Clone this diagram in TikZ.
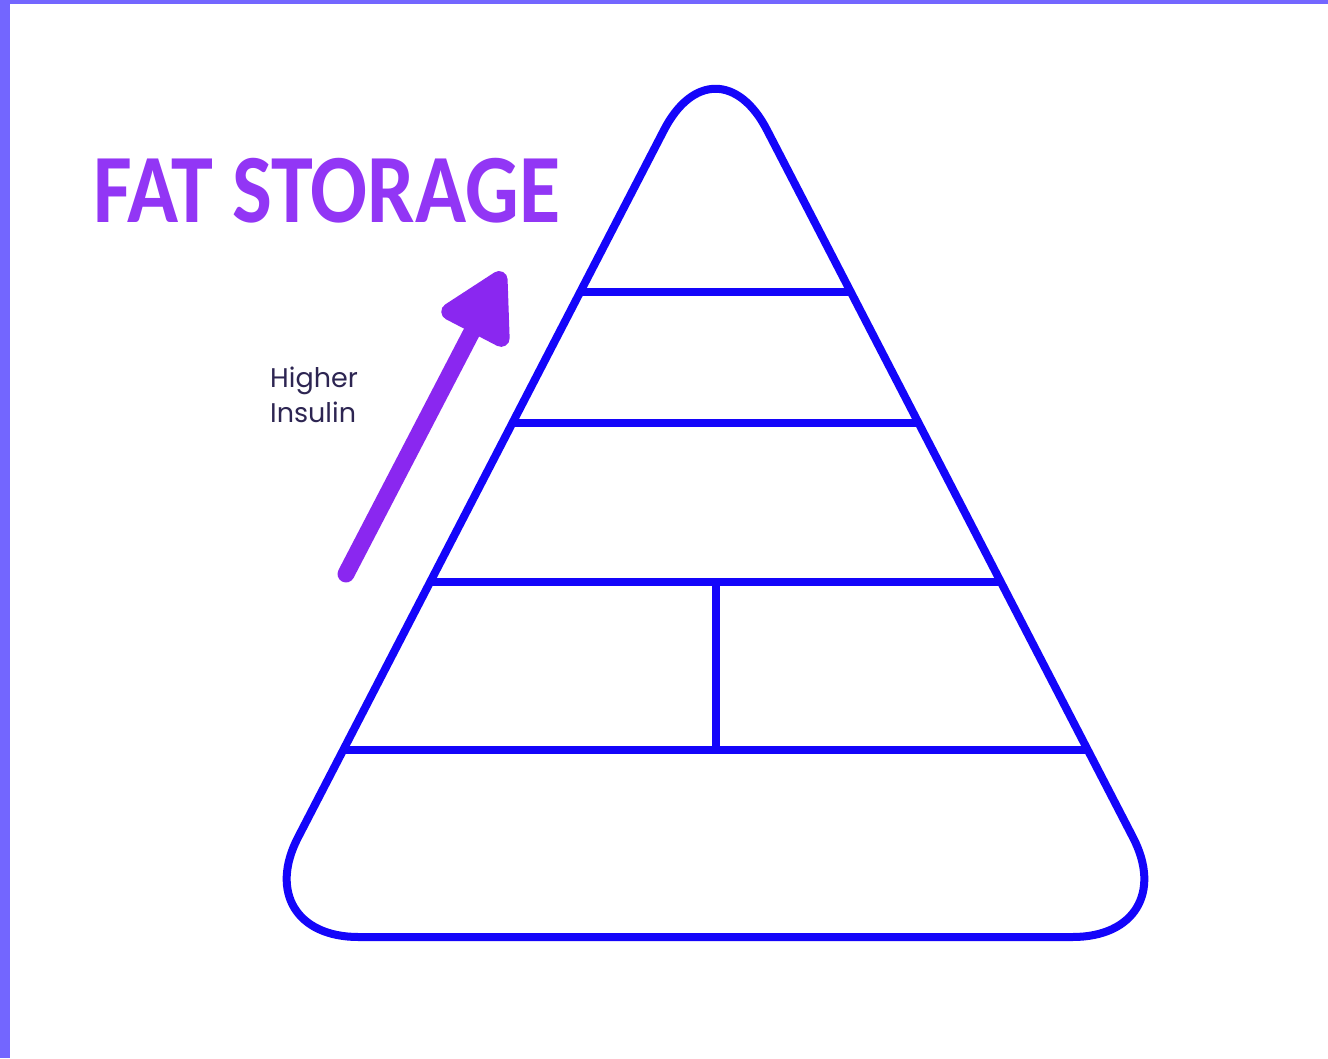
\documentclass[tikz,border=0pt]{standalone}
\usepackage{fontspec}
\usepackage{xcolor}
\usetikzlibrary{arrows.meta,calc}
\newfontfamily\titlefont[FakeStretch=0.86]{Carlito}
\newfontfamily\labelfont{Poppins}
\definecolor{PyramidBlue}{HTML}{1405FA}
\definecolor{FatPurple}{HTML}{9236F5}
\definecolor{ArrowPurple}{HTML}{8A27F0}
\definecolor{InsulinInk}{HTML}{2D2552}
\definecolor{FrameViolet}{HTML}{7366FF}

\begin{document}
\begin{tikzpicture}[
  x=1pt, y=-1pt,
  outline/.style={draw=PyramidBlue,line width=8pt,line join=round,rounded corners=112pt},
  tier/.style={draw=PyramidBlue,line width=8pt},
  riser/.style={-{Triangle[length=78pt,width=82pt,round]},ArrowPurple,line width=17pt,line cap=round}
]
  \useasboundingbox[fill=white] (0,0) rectangle (1328,1058);
  \fill[FrameViolet] (0,0) rectangle (10,1058);
  \fill[FrameViolet] (0,0) rectangle (1328,4);

  \coordinate (apex) at (715.5,30.5);
  \coordinate (bl) at (246.5,937);
  \coordinate (br) at (1184.5,937);
  \draw[outline] ($(bl)!0.5!(br)$) -- (br) -- (apex) -- (bl) -- cycle;

  \foreach \t [count=\i] in {0.2885,0.433,0.6084,0.7937} {
    \coordinate (L\i) at ($(apex)!\t!(bl)$);
    \coordinate (R\i) at ($(apex)!\t!(br)$);
    \draw[tier] (L\i) -- (R\i);
  }
  \draw[tier] ($(L3)!0.5!(R3)$) -- ($(L4)!0.5!(R4)$);

  \coordinate (tail) at (346,574);
  \coordinate (head) at (503,272);
  \draw[riser] (tail) -- (head);

  \node[anchor=base west,inner sep=0,text=FatPurple,font=\titlefont\bfseries\fontsize{98}{98}\selectfont] (title) at (93,222) {FAT STORAGE};
  \node[anchor=base west,inner sep=0,align=left,text=InsulinInk,font=\labelfont\fontsize{27}{35}\selectfont] (insulin) at (270,422) {Higher\\Insulin};
\end{tikzpicture}
\end{document}
